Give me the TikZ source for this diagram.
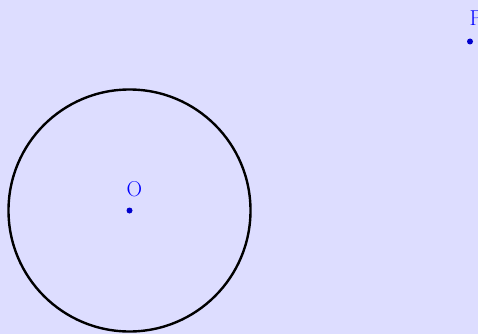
\documentclass[tikz,border=0pt]{standalone}
\usepackage{fontspec}
\begin{document}
\begin{tikzpicture}[x=1pt,y=-1pt,
  lbl/.style={text=blue,inner sep=0pt,anchor=base west,font=\fontsize{21.5}{23}\selectfont},
  pt/.style={circle,fill=blue!80!black,inner sep=0pt,minimum size=6pt}]
\definecolor{bgc}{RGB}{221,221,255}
\fill[bgc] (0,0) rectangle (478,334);
\useasboundingbox (0,0) rectangle (478,334);
\node[pt] (O) at (129.5,210.5) {};
\node[pt] (P) at (470,41.5) {};
\draw[line width=2.4pt] (O) circle[radius=121];
\node[lbl] (Ol) at (126.5,196) {O};
\node[lbl] (Pl) at (469.5,26) {P};
\end{tikzpicture}
\end{document}
